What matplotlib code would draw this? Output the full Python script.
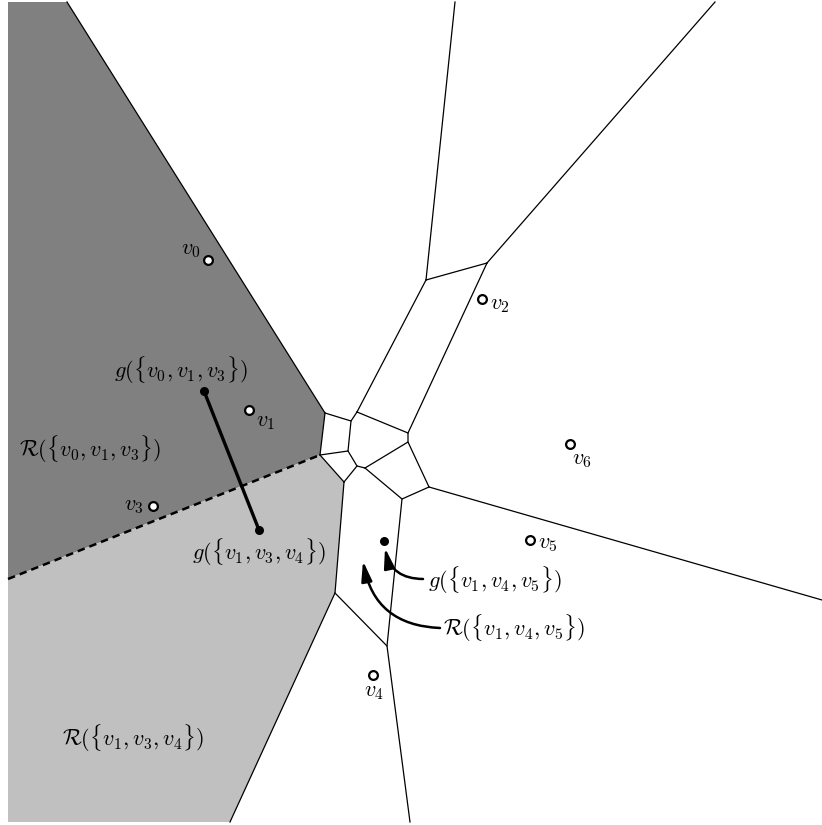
import matplotlib
matplotlib.use("Agg")
import matplotlib.pyplot as plt
from matplotlib.patches import Polygon, FancyArrowPatch

plt.rcParams['mathtext.fontset'] = 'cm'
plt.rcParams['font.family'] = ['DejaVu Serif']

# --- diagram data (pixel coordinates of the picture, y downward) ---
dark_region = [(8, 2), (67, 2), (325, 413), (320, 455), (8, 579)]
light_region = [(8, 579), (320, 455), (344, 482), (335, 593), (230, 822), (8, 822)]

edges = [
    [(67, 2), (325, 413)],
    [(455, 2), (426, 280)],
    [(715, 2), (487, 263)],
    [(426, 280), (487, 263)],
    [(426, 280), (357, 412)],
    [(487, 263), (408, 433)],
    [(325, 413), (351, 421), (357, 412)],
    [(357, 412), (408, 433), (408, 442)],
    [(351, 421), (348, 451), (320, 455)],
    [(325, 413), (320, 455)],
    [(348, 451), (357, 466), (365, 468)],
    [(357, 466), (344, 482)],
    [(320, 455), (344, 482)],
    [(365, 468), (408, 442), (429, 487)],
    [(365, 468), (402, 499), (429, 487)],
    [(429, 487), (822, 600)],
    [(402, 499), (387, 646), (410, 822)],
    [(344, 482), (335, 593), (387, 646)],
    [(335, 593), (230, 822)],
]
dashed_edge = [(8, 579), (320, 455)]

sites_x = [208, 249, 482, 153, 373, 530, 570]
sites_y = [260, 410, 299, 506, 675, 540, 444]
site_labels = [r'$v_0$', r'$v_1$', r'$v_2$', r'$v_3$', r'$v_4$', r'$v_5$', r'$v_6$']
site_label_pos = [(201, 249, 'right'), (256, 421, 'left'), (490, 304, 'left'),
                  (144, 505, 'right'), (374, 691, 'center'), (538, 543, 'left'),
                  (572, 459, 'left')]

g_x = [204, 259, 384]
g_y = [391, 530, 541]

region_texts = [
    (181, 370, r'$g(\{v_0,v_1,v_3\})$', 'center'),
    (90, 449, r'$\mathcal{R}(\{v_0,v_1,v_3\})$', 'center'),
    (259, 552, r'$g(\{v_1,v_3,v_4\})$', 'center'),
    (133, 738, r'$\mathcal{R}(\{v_1,v_3,v_4\})$', 'center'),
    (428, 580, r'$g(\{v_1,v_4,v_5\})$', 'left'),
    (443, 628, r'$\mathcal{R}(\{v_1,v_4,v_5\})$', 'left'),
]
arrows = [((423, 579), (385, 548)), ((440, 628), (363, 561))]

fig = plt.figure(figsize=(8.22, 8.25), dpi=100)
ax = fig.add_axes([0, 0, 1, 1])
ax.set_xlim(0, 822)
ax.set_ylim(825, 0)
ax.axis('off')

ax.add_patch(Polygon(dark_region, closed=True, facecolor='#808080', edgecolor='none'))
ax.add_patch(Polygon(light_region, closed=True, facecolor='#c0c0c0', edgecolor='none'))

for e in edges:
    xs, ys = zip(*e)
    ax.plot(xs, ys, color='black', lw=0.9, solid_joinstyle='miter')

xs, ys = zip(*dashed_edge)
ax.plot(xs, ys, color='black', lw=1.8, linestyle=(0, (3, 2)))

# segment between the two g points
ax.plot(g_x[:2], g_y[:2], color='black', lw=2.4, solid_capstyle='round')
ax.scatter(g_x, g_y, s=30, color='black', zorder=5)

ax.scatter(sites_x, sites_y, s=40, facecolor='white', edgecolor='black',
           linewidths=1.6, zorder=5)
for lab, (lx, ly, ha) in zip(site_labels, site_label_pos):
    ax.text(lx, ly, lab, fontsize=16, ha=ha, va='center')

for tx, ty, s, ha in region_texts:
    ax.text(tx, ty, s, fontsize=16, ha=ha, va='center')

for start, end in arrows:
    ax.add_patch(FancyArrowPatch(start, end,
                                 arrowstyle='-|>,head_length=0.75,head_width=0.2',
                                 mutation_scale=16,
                                 connectionstyle='arc3,rad=-0.4', color='black',
                                 lw=1.8, shrinkA=0, shrinkB=0))

fig.savefig('out.png', dpi=100)
